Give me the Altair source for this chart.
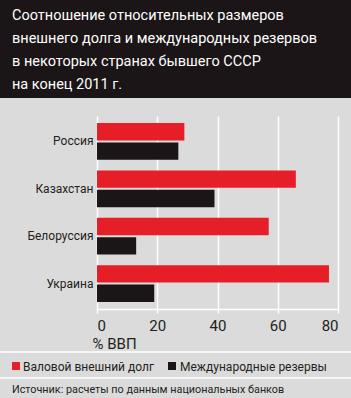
import altair as alt
import pandas as pd

countries = ["Россия", "Казахстан", "Белоруссия", "Украина"]
gross_debt = [29, 66, 57, 77]
reserves = [27, 39, 13, 19]
series = ["Валовой внешний долг", "Международные резервы"]
series_colors = ["#e61e28", "#1b1517"]
x_ticks = [0, 20, 40, 60, 80]
title_lines = [
    "Соотношение относительных размеров",
    "внешнего долга и международных резервов",
    "в некоторых странах бывшего СССР",
    "на конец 2011 г.",
]
x_title = "% ВВП"
source_text = "Источник: расчеты по данным национальных банков"

rows = []
for c, d, r in zip(countries, gross_debt, reserves):
    rows.append({"country": c, "series": series[0], "value": d})
    rows.append({"country": c, "series": series[1], "value": r})
df = pd.DataFrame(rows)
one = pd.DataFrame({"k": [0]})

FONT = "Roboto, DejaVu Sans Condensed, sans-serif"
TEXT = "#231f20"
BG = "#dcdbdb"
TOTAL_W, TOTAL_H = 351, 398
PL, PT = 97, 116
W, H = 241, 193

bars = alt.Chart(df).mark_bar().encode(
    x=alt.X(
        "value:Q",
        scale=alt.Scale(domain=[0, 80], nice=False),
        axis=alt.Axis(
            values=x_ticks, title=x_title, grid=True, gridColor="white", gridWidth=1.5,
            domainColor="white", domainWidth=1.5, tickColor="white", tickWidth=1.5, tickSize=4,
            labelFont=FONT, labelFontSize=15, labelColor=TEXT, labelPadding=5,
            titleFont=FONT, titleFontSize=15, titleFontWeight="normal", titleColor=TEXT,
            titleX=-5, titleY=34, titleAlign="left", titleBaseline="middle",
        ),
    ),
    y=alt.Y(
        "country:N", sort=countries,
        scale=alt.Scale(paddingInner=0.225, paddingOuter=0.15),
        axis=alt.Axis(title=None, ticks=False, domain=False, labelFont=FONT,
                      labelFontSize=12, labelColor=TEXT, labelPadding=4),
    ),
    yOffset=alt.YOffset("series:N", sort=series, scale=alt.Scale(paddingInner=0.1)),
    color=alt.Color(
        "series:N", sort=series,
        scale=alt.Scale(domain=series, range=series_colors),
        legend=None,
    ),
)

# Legend drawn as a row of key squares and labels
legend_sym_x = [16, 172]
legend_txt_x = [23, 180]
legend_y = 367
legend_layers = []
for name, col, sx, tx in zip(series, series_colors, legend_sym_x, legend_txt_x):
    legend_layers.append(
        alt.Chart(one).mark_square(size=64, color=col, opacity=1).encode(
            x=alt.value(sx - PL), y=alt.value(legend_y - 1 - PT),
        )
    )
    legend_layers.append(
        alt.Chart(one).mark_text(
            align="left", baseline="middle", font=FONT, fontSize=12, color=TEXT,
        ).encode(x=alt.value(tx - PL), y=alt.value(legend_y - PT), text=alt.value(name))
    )

title_box = alt.Chart(one).mark_rect(color="#1b1517").encode(
    x=alt.value(-PL), x2=alt.value(TOTAL_W - PL),
    y=alt.value(-PT), y2=alt.value(98 - PT),
)

title_text = alt.Chart(one).mark_text(
    align="left", baseline="alphabetic", font=FONT, fontSize=14.5, color="white",
    lineBreak="\n", lineHeight=23,
).encode(
    x=alt.value(-85), y=alt.value(20 - PT), text=alt.value("\n".join(title_lines)),
)

sep1 = alt.Chart(one).mark_rule(color="white", strokeWidth=1.5).encode(
    x=alt.value(-PL), x2=alt.value(TOTAL_W - PL), y=alt.value(352 - PT),
)
sep2 = alt.Chart(one).mark_rule(color="white", strokeWidth=1.5).encode(
    x=alt.value(-PL), x2=alt.value(TOTAL_W - PL), y=alt.value(378 - PT),
)

source = alt.Chart(one).mark_text(
    align="left", baseline="middle", font=FONT, fontSize=10.8, color=TEXT,
).encode(
    x=alt.value(-85), y=alt.value(390 - PT), text=alt.value(source_text),
)

chart = alt.layer(bars, title_box, title_text, sep1, sep2, source, *legend_layers).properties(
    width=W, height=H,
    autosize=alt.AutoSizeParams(type="none"),
    padding={"left": PL, "top": PT, "right": TOTAL_W - PL - W, "bottom": TOTAL_H - PT - H},
    background=BG,
).configure_view(stroke=None)

chart.save("out.html", embed_options={"renderer": "svg", "actions": False})
